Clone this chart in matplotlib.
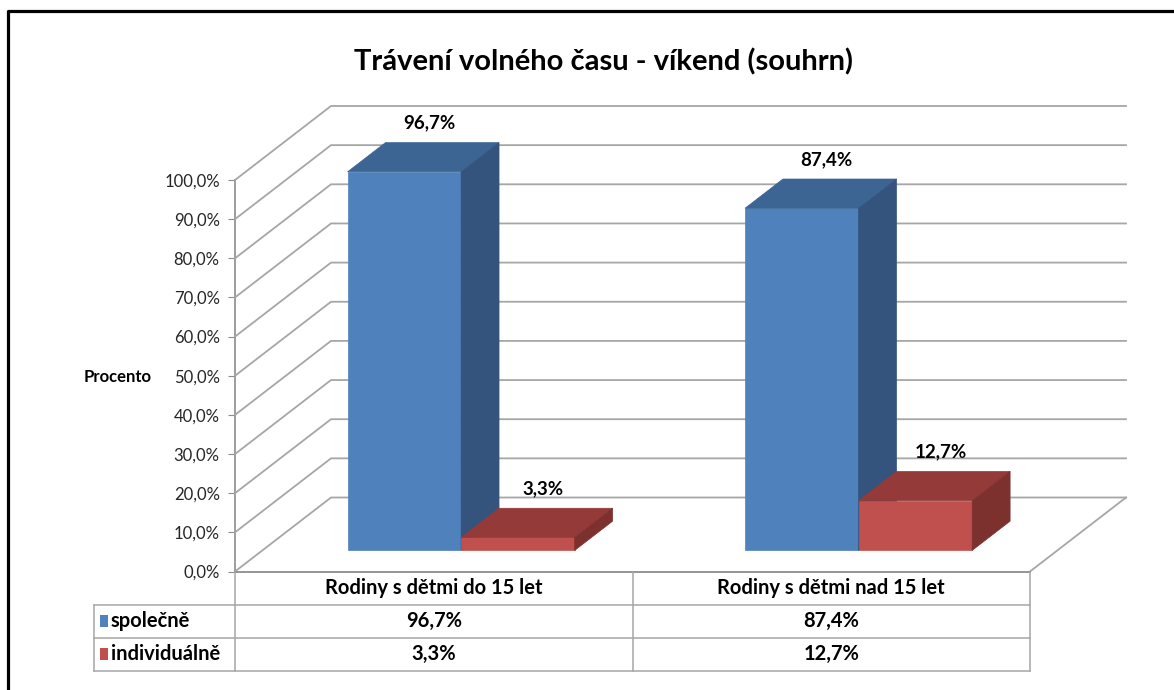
import numpy as np
import matplotlib
matplotlib.use('Agg')
import matplotlib.pyplot as plt
from matplotlib.patches import Polygon, Rectangle
from matplotlib.lines import Line2D

# data
categories = ['Rodiny s dětmi do 15 let', 'Rodiny s dětmi nad 15 let']
series_names = ['společně', 'individuálně']
spolecne = [96.7, 87.4]
individualne = [3.3, 12.7]
yticks = list(range(0, 101, 10))

plt.rcParams['font.family'] = ['Lato', 'DejaVu Sans']

W, H = 1174, 690
fig = plt.figure(figsize=(W / 100, H / 100), dpi=100)


def fx(px):
    return px / W


def fy(py):
    return 1 - py / H


# front plane of the 3d plot
ax = fig.add_axes([fx(235), fy(571.5), 795 / W, 391.5 / H])
ax.set_xlim(0, len(categories))
ax.set_ylim(0, 100)
ax.set_autoscale_on(False)
ax.patch.set_visible(False)
for s in ['top', 'right', 'bottom']:
    ax.spines[s].set_visible(False)
ax.spines['left'].set_color('#8c8c8c')
ax.spines['left'].set_linewidth(1.2)
ax.set_xticks([])
ax.set_yticks(yticks)
ax.set_yticklabels([f'{v:.1f}%'.replace('.', ',') for v in yticks],
                   fontsize=12, color='#262626')
ax.tick_params(axis='y', direction='out', length=5, color='#8c8c8c', pad=6)

DEPTH = (96, 74)   # back wall offset in pixels
inv = fig.transFigure.inverted()


def proj(x, y, f, dx=0, dy=0):
    px, py = ax.transData.transform((x, y))
    return inv.transform((px + f * DEPTH[0] + dx, py + f * DEPTH[1] + dy))


def fig_line(pts, color='#a6a6a6', lw=1.3, z=1):
    xs, ys = zip(*pts)
    fig.add_artist(Line2D(xs, ys, color=color, lw=lw, zorder=z,
                          transform=fig.transFigure))


# walls / gridlines
nx = len(categories)
for v in yticks:
    fig_line([proj(0, v, 0), proj(0, v, 1), proj(nx, v, 1)])
# floor
fig_line([proj(nx, 0, 1), proj(nx, 0, 0)])
fig_line([proj(0, 0, 0), proj(nx, 0, 0)], color='#8c8c8c')

# bars
w = 1 / 3.5
f0, f1 = 0.285, 0.68
colors = [('#4f81bd', '#3d6594', '#34547d'),
          ('#c0504d', '#943a38', '#7d312f')]
data = [spolecne, individualne]
for i in range(nx):
    for j, vals in enumerate(data):
        v = vals[i]
        x0 = i + 0.5 - w + j * w
        x1 = x0 + w
        cf, ct, cs = colors[j]
        faces = [
            ([proj(x0, 0, f0), proj(x1, 0, f0), proj(x1, v, f0), proj(x0, v, f0)], cf),
            ([proj(x0, v, f0), proj(x1, v, f0), proj(x1, v, f1), proj(x0, v, f1)], ct),
            ([proj(x1, 0, f0), proj(x1, 0, f1), proj(x1, v, f1), proj(x1, v, f0)], cs),
        ]
        for pts, c in faces:
            fig.add_artist(Polygon(pts, closed=True, facecolor=c, edgecolor=c,
                                   lw=0.5, zorder=3, transform=fig.transFigure))
        lx, ly = proj(x0 + w / 2, v, (f0 + f1) / 2, dx=6, dy=34)
        fig.text(lx, ly, f'{v:.1f}%'.replace('.', ','), ha='center', va='center',
                 fontsize=13.5, fontweight='bold', color='#000000', zorder=4)

# axis title
fig.text(fx(118), fy(377), 'Procento', ha='center', va='center',
         fontsize=12, fontweight='bold')

# title
fig.text(fx(604), fy(62), 'Trávení volného času - víkend (souhrn)', ha='center',
         va='center', fontsize=21, fontweight='bold')

# data table
tab_left = fx(94)
rows = [fy(571.5), fy(605), fy(637.5), fy(671)]
col_x = [proj(k, 0, 0)[0] for k in range(nx + 1)]
tc = '#a6a6a6'
for k, xk in enumerate(col_x):
    fig_line([(xk, rows[0]), (xk, rows[3])], color=tc, lw=1.1)
fig_line([(tab_left, rows[1]), (tab_left, rows[3])], color=tc, lw=1.1)
for r in rows[1:]:
    fig_line([(tab_left, r), (col_x[-1], r)], color=tc, lw=1.1)

for i, cat in enumerate(categories):
    cx = (col_x[i] + col_x[i + 1]) / 2
    fig.text(cx, (rows[0] + rows[1]) / 2, cat, ha='center', va='center',
             fontsize=14.5, fontweight='bold')
    for j, vals in enumerate(data):
        fig.text(cx, (rows[j + 1] + rows[j + 2]) / 2, f'{vals[i]:.1f}%'.replace('.', ','),
                 ha='center', va='center', fontsize=14.5, fontweight='bold')

for j, name in enumerate(series_names):
    yc = (rows[j + 1] + rows[j + 2]) / 2
    fig.add_artist(Rectangle((fx(100), yc - 6 / H), 8 / W, 12 / H,
                             facecolor=colors[j][0], edgecolor='none',
                             transform=fig.transFigure))
    fig.text(fx(111), yc, name, ha='left', va='center', fontsize=14.5,
             fontweight='bold')

# outer frame
fig.add_artist(Line2D([fx(8), fx(8), 1.0], [0.0, fy(11), fy(11)], color='black',
                      lw=2.3, transform=fig.transFigure))

fig.savefig('out.png', dpi=100, facecolor='white')
